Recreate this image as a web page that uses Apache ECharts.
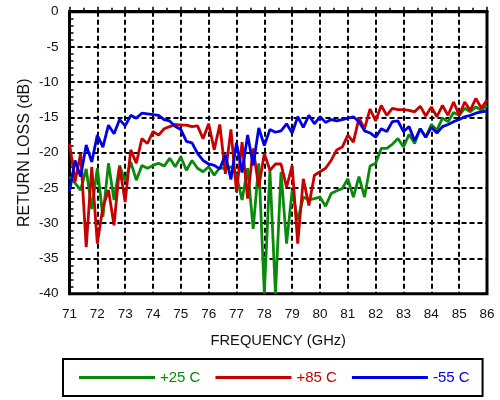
<!DOCTYPE html>
<html lang="en">
<head>
    <meta charset="UTF-8"/>
    <script src="https://cdn.jsdelivr.net/npm/echarts@6/dist/echarts.min.js"></script>
    <title>Return loss</title>
</head>
<body style="margin:0">
<div id="main" style="width:500px;height:400px;"></div>
<script type="text/javascript">
    // frequency points (GHz)
    var freq = [71.0, 71.2, 71.4, 71.6, 71.8, 72.0, 72.2, 72.4, 72.6, 72.8,
        73.0, 73.2, 73.4, 73.6, 73.8, 74.0, 74.2, 74.4, 74.6, 74.8,
        75.0, 75.2, 75.4, 75.6, 75.8, 76.0, 76.2, 76.4, 76.6, 76.8,
        77.0, 77.2, 77.4, 77.6, 77.8, 78.0, 78.2, 78.4, 78.6, 78.8,
        79.0, 79.2, 79.4, 79.6, 79.8, 80.0, 80.2, 80.4, 80.6, 80.8,
        81.0, 81.2, 81.4, 81.6, 81.8, 82.0, 82.2, 82.4, 82.6, 82.8,
        83.0, 83.2, 83.4, 83.6, 83.8, 84.0, 84.2, 84.4, 84.6, 84.8,
        85.0, 85.2, 85.4, 85.6, 85.8, 86.0];

    // return loss (dB)
    var rl25 = [-23.4, -24.3, -25.3, -22.3, -28.0, -22.2, -29.1, -21.5, -26.7, -21.8,
        -24.1, -21.3, -23.9, -21.8, -22.2, -21.8, -21.5, -21.9, -20.8, -22.0,
        -20.6, -22.5, -21.1, -22.2, -22.7, -22.0, -23.2, -22.1, -22.3, -22.0,
        -23.3, -26.7, -22.2, -30.8, -21.5, -40.0, -22.5, -40.0, -22.7, -32.9,
        -25.3, -29.6, -26.3, -26.7, -26.5, -26.3, -27.6, -25.8, -25.4, -25.1,
        -23.7, -26.3, -23.4, -26.3, -21.9, -21.5, -19.4, -19.4, -18.8, -18.0,
        -19.2, -17.4, -18.7, -16.6, -17.8, -16.0, -16.8, -15.1, -15.6, -14.3,
        -14.7, -13.7, -14.2, -13.5, -14.0, -13.3];

    var rl85 = [-18.7, -24.1, -20.1, -33.4, -22.0, -32.9, -27.7, -25.3, -30.3, -22.0,
        -27.0, -19.6, -21.5, -18.0, -18.7, -17.0, -17.5, -16.6, -16.3, -16.0,
        -16.1, -16.1, -16.3, -16.2, -18.0, -15.9, -19.6, -16.0, -23.0, -16.7,
        -25.6, -18.5, -26.5, -19.4, -24.9, -20.1, -22.5, -21.6, -21.6, -24.9,
        -21.8, -32.9, -23.7, -27.5, -23.2, -22.7, -22.2, -21.1, -19.6, -19.2,
        -17.5, -18.5, -15.1, -16.6, -13.8, -15.5, -13.3, -14.7, -13.7, -13.9,
        -13.9, -14.0, -14.2, -13.4, -14.8, -13.5, -14.9, -13.3, -14.7, -12.8,
        -14.7, -12.8, -14.0, -12.3, -13.7, -12.5];

    var rlm55 = [-25.5, -21.1, -23.4, -18.9, -21.3, -17.5, -19.2, -16.1, -17.3, -15.3,
        -16.2, -14.7, -15.1, -14.4, -14.5, -14.6, -14.7, -15.3, -15.5, -16.3,
        -16.7, -18.4, -18.6, -20.1, -21.1, -21.6, -21.8, -22.3, -20.3, -23.8,
        -18.6, -22.8, -17.5, -21.8, -16.5, -19.0, -16.7, -17.1, -16.9, -15.9,
        -17.2, -14.9, -16.4, -14.7, -15.9, -14.9, -15.7, -15.3, -15.5, -15.3,
        -15.1, -14.9, -15.6, -16.9, -17.2, -17.8, -16.6, -17.0, -15.6, -15.5,
        -17.0, -16.3, -18.3, -16.6, -17.8, -16.4, -17.2, -16.3, -16.0, -15.6,
        -15.3, -14.9, -14.7, -14.4, -14.2, -14.1];

    var names = ['+25 C', '+85 C', '-55 C'];
    var colors = ['#0a8a0a', '#c80000', '#0000e6'];

    function pairs(vals) {
        var out = [];
        for (var i = 0; i < freq.length; i++) {
            out.push([freq[i], vals[i]]);
        }
        return out;
    }

    var font = 'Liberation Sans, Arial, Helvetica, sans-serif';
    var myChart = echarts.init(document.getElementById('main'));

    var dash = {show: true, lineStyle: {color: '#000', width: 2, type: [5, 3]}};

    option = {
        animation: false,
        grid: {
            left: 69.5, right: 13, top: 11.7, bottom: 106.3,
            show: true, borderColor: '#000', borderWidth: 3
        },
        xAxis: {
            type: 'value', min: 71, max: 86, interval: 1,
            name: 'FREQUENCY (GHz)', nameLocation: 'middle', nameGap: 40,
            nameMoveOverlap: false,
            nameTextStyle: {fontFamily: font, fontSize: 14.7, color: '#111'},
            axisLine: {show: true, lineStyle: {color: '#000', width: 3}},
            axisTick: {show: true, inside: true, length: 5, lineStyle: {color: '#000', width: 1.5}},
            minorTick: {show: true, splitNumber: 2, length: 4, lineStyle: {color: '#000', width: 1.5}},
            axisLabel: {fontFamily: font, fontSize: 13.5, color: '#111', margin: 14},
            splitLine: dash
        },
        yAxis: {
            type: 'value', min: -40, max: 0, interval: 5,
            name: 'RETURN LOSS (dB)', nameLocation: 'middle', nameGap: 37,
            nameMoveOverlap: false,
            nameTextStyle: {fontFamily: font, fontSize: 16, color: '#111'},
            axisLine: {show: true, lineStyle: {color: '#000', width: 3}},
            axisTick: {show: true, inside: true, length: 5, lineStyle: {color: '#000', width: 1.5}},
            minorTick: {show: true, splitNumber: 5, length: 4, lineStyle: {color: '#000', width: 1.5}},
            axisLabel: {fontFamily: font, fontSize: 13.5, color: '#111', margin: 11},
            splitLine: dash
        },
        legend: {
            left: 63, top: 359,
            padding: [11, 13, 11, 16],
            borderColor: '#000', borderWidth: 2,
            itemWidth: 76, itemHeight: 3, itemGap: 15,
            icon: 'rect',
            textStyle: {fontFamily: font, fontSize: 15},
            data: names.map(function (n, i) {
                return {name: n, textStyle: {color: colors[i]}};
            })
        },
        series: [rl25, rl85, rlm55].map(function (vals, i) {
            return {
                name: names[i],
                type: 'line',
                data: pairs(vals),
                showSymbol: false,
                clip: true,
                color: colors[i],
                lineStyle: {width: 2.8, color: colors[i]}
            };
        })
    };

    myChart.setOption(option);
</script>
</body>
</html>
